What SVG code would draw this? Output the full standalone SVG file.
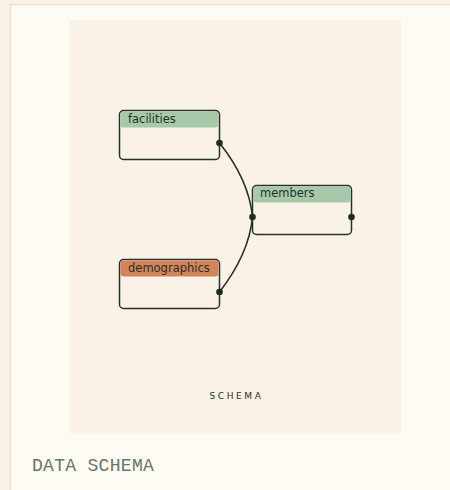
<svg xmlns="http://www.w3.org/2000/svg" width="450" height="490" viewBox="0 0 450 490">
<style>
.box{fill:#FAF2E6;stroke:#26302A;stroke-width:1.5}
.hdr-g{fill:#A8C9A9}
.hdr-o{fill:#D4845A}
.lbl{font-family:"DejaVu Sans",sans-serif;font-size:11.5px;fill:#26302A}
.link{fill:none;stroke:#26302A;stroke-width:1.6}
.dot{fill:#1F2A22}
</style>
<rect x="0" y="0" width="450" height="490" fill="#FAF2E6"/>
<rect x="10.5" y="4.5" width="450" height="500" fill="#FEFBF5" stroke="#E8DFCD" stroke-width="1.5"/>
<rect x="70" y="20" width="331" height="413" fill="#FAF2E6"/>
<g id="connectors">
<path class="link" d="M219.5,143 Q249,180 252.5,217"/>
<path class="link" d="M219.5,292 Q249,254 252.5,217"/>
</g>
<g id="facilities">
<rect class="box" x="119.5" y="110.5" width="100" height="49" rx="4"/>
<rect class="hdr-g" x="120.5" y="111.5" width="98" height="16" rx="3"/>
<text class="lbl" x="128" y="122.5">facilities</text>
<circle class="dot" cx="219.5" cy="143" r="3.3"/>
</g>
<g id="members">
<rect class="box" x="252.5" y="185.5" width="99" height="49" rx="4"/>
<rect class="hdr-g" x="253.5" y="186.5" width="97" height="16" rx="3"/>
<text class="lbl" x="260" y="197">members</text>
<circle class="dot" cx="252.5" cy="217" r="3.3"/>
<circle class="dot" cx="351.5" cy="217" r="3.3"/>
</g>
<g id="demographics">
<rect class="box" x="119.5" y="259.5" width="100" height="49" rx="4"/>
<rect class="hdr-o" x="120.5" y="260.5" width="98" height="16" rx="3"/>
<text class="lbl" x="128" y="271.5">demographics</text>
<circle class="dot" cx="219.5" cy="292" r="3.3"/>
</g>
<text x="236.5" y="399" text-anchor="middle" font-family="DejaVu Sans, sans-serif" font-size="9" letter-spacing="2.6" fill="#26302A">SCHEMA</text>
<text x="32" y="471" font-family="Liberation Mono, monospace" font-size="18" letter-spacing="0.3" fill="#6B7366">DATA SCHEMA</text>
</svg>
